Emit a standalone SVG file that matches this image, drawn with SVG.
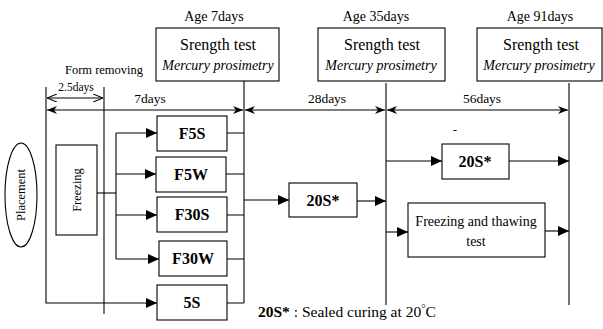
<svg xmlns="http://www.w3.org/2000/svg" width="603" height="329" viewBox="0 0 603 329" font-family="'Liberation Serif', 'DejaVu Serif', serif">
<style>
text{font-family:'Liberation Serif','DejaVu Serif',serif;fill:#000}
.box{fill:#fff;stroke:#000;stroke-width:1.1}
.ln{fill:none;stroke:#000;stroke-width:1.1}
.lbl{font-size:16px;font-weight:bold;text-anchor:middle}
.age{font-size:14px;text-anchor:middle}
.st{font-size:16px;text-anchor:middle}
.mp{font-size:14px;font-style:italic;text-anchor:middle}
.dim{font-size:13.5px;text-anchor:middle}
</style>
<defs>
<marker id="ah" viewBox="0 0 11 10" refX="11" refY="5" markerWidth="11" markerHeight="10" orient="auto-start-reverse" markerUnits="userSpaceOnUse"><path d="M0,0 L11,5 L0,10 z" fill="#000"/></marker>
<marker id="dh" viewBox="0 0 10 8" refX="10" refY="4" markerWidth="10" markerHeight="8" orient="auto-start-reverse" markerUnits="userSpaceOnUse"><path d="M0,0 L10,4 L0,8 L3,4 z" fill="#000"/></marker>
<marker id="oh" viewBox="0 0 10 8" refX="10" refY="4" markerWidth="10" markerHeight="8" orient="auto-start-reverse" markerUnits="userSpaceOnUse"><path d="M0,0 L10,4 L0,8" fill="none" stroke="#000" stroke-width="1.1"/></marker>
</defs>

<g id="age7">
<text class="age" x="214" y="21">Age 7days</text>
<rect class="box" x="156" y="28" width="123" height="53"/>
<text class="st" x="218" y="50">Srength test</text>
<text class="mp" x="218" y="70">Mercury prosimetry</text>
</g>
<g id="age35">
<text class="age" x="376" y="21">Age 35days</text>
<rect class="box" x="318" y="28" width="127" height="53"/>
<text class="st" x="382" y="50">Srength test</text>
<text class="mp" x="381" y="70">Mercury prosimetry</text>
</g>
<g id="age91">
<text class="age" x="540" y="21">Age 91days</text>
<rect class="box" x="477" y="28" width="125" height="53"/>
<text class="st" x="541" y="50">Srength test</text>
<text class="mp" x="539" y="70">Mercury prosimetry</text>
</g>

<g id="placement">
<ellipse cx="21" cy="195" rx="16" ry="52" fill="#fff" stroke="#000" stroke-width="1.1"/>
<text x="0" y="0" font-size="12.5" text-anchor="middle" transform="translate(25,195) rotate(-90)">Placement</text>
</g>
<g id="freezing">
<rect class="box" x="56" y="145" width="41" height="90"/>
<text x="0" y="0" font-size="12.5" text-anchor="middle" transform="translate(81,190) rotate(-90)">Freezing</text>
</g>

<g id="F5S"><rect class="box" x="157" y="116" width="70" height="35"/><text class="lbl" x="192" y="139">F5S</text></g>
<g id="F5W"><rect class="box" x="156" y="157" width="70" height="35"/><text class="lbl" x="191" y="180">F5W</text></g>
<g id="F30S"><rect class="box" x="157" y="197" width="70" height="35"/><text class="lbl" x="192" y="220">F30S</text></g>
<g id="F30W"><rect class="box" x="159" y="241" width="68" height="35"/><text class="lbl" x="193" y="264">F30W</text></g>
<g id="S5"><rect class="box" x="157" y="285" width="70" height="35"/><text class="lbl" x="192" y="308">5S</text></g>

<g id="S20a"><rect class="box" x="289" y="183" width="68" height="34"/><text class="lbl" x="323" y="206">20S*</text></g>
<g id="S20b"><rect class="box" x="442" y="144" width="67" height="35"/><text class="lbl" x="475" y="167">20S*</text>
<text x="455" y="134" font-size="12" text-anchor="middle">-</text></g>
<g id="ft">
<rect class="box" x="408" y="203" width="137" height="54"/>
<text x="476" y="226" font-size="14" text-anchor="middle">Freezing and thawing</text>
<text x="476" y="246" font-size="14" text-anchor="middle">test</text>
</g>

<g id="connectors">
<path class="ln" d="M46,87 V303 H157" marker-end="url(#ah)"/>
<path class="ln" d="M104,87 V314"/>
<path class="ln" d="M244,81 V303"/>
<path class="ln" d="M386,83 V305"/>
<path class="ln" d="M569,83 V305"/>
<path class="ln" d="M47,98 H103" marker-start="url(#oh)" marker-end="url(#oh)"/>
<path class="ln" d="M47,110 H243" marker-start="url(#dh)" marker-end="url(#dh)"/>
<path class="ln" d="M245,110 H385" marker-start="url(#dh)" marker-end="url(#dh)"/>
<path class="ln" d="M387,110 H568" marker-start="url(#dh)" marker-end="url(#dh)"/>
<path class="ln" d="M97,193 H116"/>
<path class="ln" d="M116,133 V259"/>
<path class="ln" d="M116,133 H157" marker-end="url(#ah)"/>
<path class="ln" d="M116,174 H156" marker-end="url(#ah)"/>
<path class="ln" d="M116,215 H157" marker-end="url(#ah)"/>
<path class="ln" d="M116,259 H159" marker-end="url(#ah)"/>
<path class="ln" d="M227,133 H244 M226,174 H244 M227,215 H244 M227,259 H244 M227,303 H244"/>
<path class="ln" d="M244,200 H289" marker-end="url(#ah)"/>
<path class="ln" d="M357,201 H386" marker-end="url(#ah)"/>
<path class="ln" d="M386,161 H442" marker-end="url(#ah)"/>
<path class="ln" d="M509,161 H569" marker-end="url(#ah)"/>
<path class="ln" d="M386,232 H408" marker-end="url(#ah)"/>
<path class="ln" d="M545,231 H569" marker-end="url(#ah)"/>
</g>

<g id="labels">
<text x="104" y="74" font-size="12.5" text-anchor="middle">Form removing</text>
<text x="76" y="91" font-size="11.5" text-anchor="middle">2.5days</text>
<text class="dim" x="150" y="103">7days</text>
<text class="dim" x="327" y="103">28days</text>
<text class="dim" x="482" y="103">56days</text>
<text x="258" y="317" font-size="15.5"><tspan font-weight="bold">20S*</tspan> : Sealed curing at 20<tspan font-size="11" dy="-5">°</tspan><tspan dy="5">C</tspan></text>
</g>
</svg>
